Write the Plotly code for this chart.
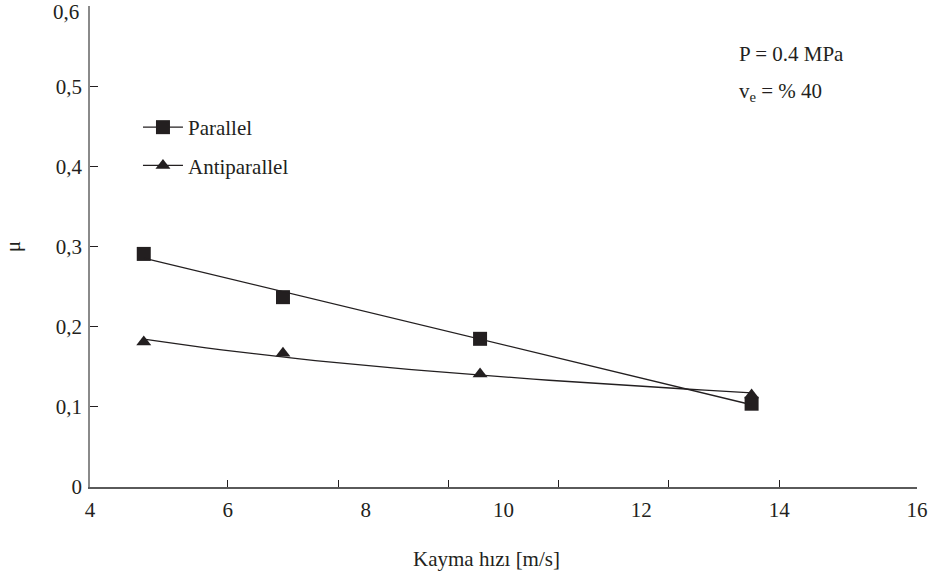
import numpy as np
import plotly.graph_objects as go

# ---- data ----
speed = [4.78, 6.80, 9.66, 13.60]            # Kayma hızı [m/s]
mu_parallel = [0.291, 0.237, 0.185, 0.104]
mu_antiparallel = [0.181, 0.167, 0.141, 0.115]

series_names = ["Parallel", "Antiparallel"]
y_tick_vals = [0, 0.1, 0.2, 0.3, 0.4, 0.5, 0.6]
y_tick_text = ["0", "0,1", "0,2", "0,3", "0,4", "0,5", "0,6"]
x_tick_vals = [4, 6, 8, 10, 12, 14, 16]
x_tick_marks = [6, 7.6, 9.2, 10.8, 12.4, 14]   # tick marks as drawn on the original axis

INK = "#231f20"
FONT = "Liberation Serif"

# plot-area geometry (pixels) used to place free texts
L, R, T, B = 90, 17, 6, 93
W, H = 934 - L - R, 580 - T - B


def px_x(px):
    return (px - L) / W


def px_y(py):
    return 1 - (py - T) / H


def linear_trend(x, y):
    k, b = np.polyfit(x, y, 1)
    xs = np.array([min(x), max(x)])
    return xs, k * xs + b


def log_trend(x, y):
    k, b = np.polyfit(np.log(x), y, 1)
    xs = np.linspace(min(x), max(x), 40)
    return xs, k * np.log(xs) + b


fig = go.Figure()

specs = [(mu_parallel, "square", 14, series_names[0], linear_trend),
         (mu_antiparallel, "triangle-up", 13, series_names[1], log_trend)]

for y, sym, size, name, trend in specs:
    tx, ty = trend(speed, y)
    fig.add_trace(go.Scatter(x=tx, y=ty, mode="lines", xaxis="x2",
                             line=dict(color=INK, width=1.3),
                             showlegend=False, hoverinfo="skip"))
    fig.add_trace(go.Scatter(x=speed, y=y, mode="markers",
                             marker=dict(symbol=sym, size=size, color=INK),
                             showlegend=False, name=name))
    # legend entry (line + marker sample)
    fig.add_trace(go.Scatter(x=[None], y=[None], mode="lines+markers", name=name,
                             legendgroup=name,
                             line=dict(color=INK, width=1.2),
                             marker=dict(symbol=sym, size=size, color=INK)))

tickfont = dict(family=FONT, size=21, color=INK)

# the top label sits right at the page edge; it is drawn as a text just below its tick
y_tick_text_axis = y_tick_text[:-1] + [""]

fig.update_layout(
    width=934, height=580,
    margin=dict(l=L, r=R, t=T, b=B),
    paper_bgcolor="white", plot_bgcolor="white",
    font=dict(family=FONT, size=21, color=INK),
    showlegend=True,
    legend=dict(x=0.058, y=0.79, xanchor="left", yanchor="top",
                bgcolor="rgba(0,0,0,0)", font=dict(family=FONT, size=21, color=INK),
                tracegroupgap=8, itemwidth=40),
    xaxis=dict(range=[4, 16], tickvals=x_tick_vals, tickfont=tickfont,
               ticks="", showgrid=False, zeroline=False,
               showline=True, linecolor="#5a5a5a", linewidth=1.5,
               ticklabelstandoff=3),
    xaxis2=dict(range=[4, 16], overlaying="x", anchor="y", side="bottom",
                tickvals=x_tick_marks, showticklabels=False,
                ticks="inside", ticklen=7, tickcolor=INK, tickwidth=1,
                showgrid=False, zeroline=False, showline=False),
    yaxis=dict(range=[0, 0.6005], tickvals=y_tick_vals, ticktext=y_tick_text_axis,
               tickfont=tickfont,
               ticks="inside", ticklen=8, tickcolor=INK, tickwidth=1,
               showgrid=False, zeroline=False,
               showline=True, linecolor="#8a8a8a", linewidth=1.5,
               ticklabelstandoff=2,
               title=dict(text="μ", standoff=29, font=dict(family=FONT, size=21))),
)

fig.add_annotation(text=y_tick_text[-1], xref="paper", yref="paper",
                   x=px_x(81), y=px_y(12), xanchor="right", yanchor="middle",
                   showarrow=False, font=tickfont)
# x-axis title (slightly left of the plot centre, as in the original)
fig.add_annotation(text="Kayma hızı [m/s]", xref="paper", yref="paper",
                   x=px_x(486.5), y=px_y(559), xanchor="center", yanchor="middle",
                   showarrow=False, font=dict(family=FONT, size=21, color=INK))
fig.add_annotation(text="P = 0.4 MPa", xref="paper", yref="paper",
                   x=px_x(737), y=px_y(54),
                   xanchor="left", yanchor="middle", showarrow=False)
fig.add_annotation(text="v<sub>e</sub> = % 40", xref="paper", yref="paper",
                   x=px_x(737), y=px_y(92),
                   xanchor="left", yanchor="middle", showarrow=False)

fig.write_html("out.html")
